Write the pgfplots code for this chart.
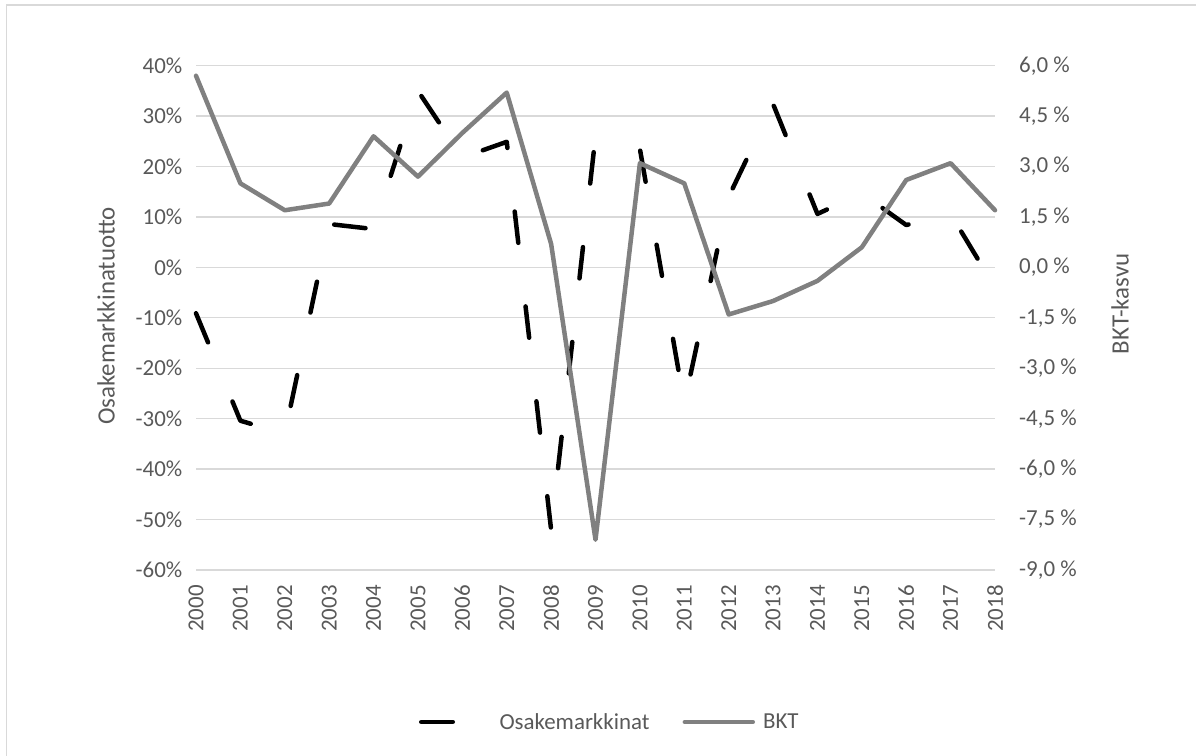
\documentclass[border=0pt]{standalone}
\usepackage{pgfplots}
\pgfplotsset{compat=1.18}
\usepackage{fontspec}
\setmainfont{Carlito}
\definecolor{txt}{HTML}{595959}
\definecolor{gridc}{HTML}{D9D9D9}
\definecolor{gdp}{HTML}{808080}
\newcommand{\tfont}{\fontsize{23}{27}\selectfont}
\newcommand{\ltfont}{\fontsize{25}{29}\selectfont}
\begin{document}
\begin{tikzpicture}[x=1bp,y=1bp]
\path[use as bounding box] (0,0) rectangle (1196,756);
\draw[gridc, line width=1.5bp] (6.7,0) -- (6.7,751) -- (1196,751);
\begin{axis}[
  at={(196bp,186bp)}, anchor=south west,
  scale only axis, width=799bp, height=504.3bp,
  xmin=2000, xmax=2018, ymin=-60, ymax=40,
  xtick={2000,2001,...,2018},
  ytick={-60,-50,...,40},
  axis line style={draw=none}, tick style={draw=none},
  ymajorgrids, grid style={gridc, line width=1.3bp},
  /pgf/number format/assume math mode=true,
  /pgf/number format/1000 sep={},
  tick label style={font=\tfont, text=txt},
  xticklabel style={rotate=90, anchor=east, inner sep=0pt},
  xticklabel shift=15bp,
  yticklabel style={inner sep=0pt, anchor=east},
  yticklabel shift=13.5bp,
  yticklabel={\pgfmathprintnumber{\tick}\%},
  clip=false,
]
\addplot[black, line width=4.5bp, line cap=round, line join=round, dash pattern=on 31.5bp off 64bp] coordinates {
(2000,-9.1) (2001,-30.4) (2002,-33) (2003,8.6) (2004,7.6) (2005,35.0) (2006,21.8) (2007,24.9) (2008,-52) (2009,26) (2010,23.5) (2011,-27) (2012,14) (2013,32.4) (2014,10.6) (2015,14.7) (2016,8.4) (2017,10.6) (2018,-4)
};
\end{axis}
\begin{axis}[
  at={(196bp,186bp)}, anchor=south west,
  scale only axis, width=799bp, height=504.3bp,
  xmin=2000, xmax=2018, ymin=-9, ymax=6,
  xtick=\empty,
  ytick={-9,-7.5,-6,-4.5,-3,-1.5,0,1.5,3,4.5,6},
  axis x line=none, axis y line*=right,
  axis line style={draw=none}, tick style={draw=none},
  /pgf/number format/assume math mode=true,
  /pgf/number format/.cd, fixed, fixed zerofill, precision=1, use comma, /pgfplots/.cd,
  tick label style={font=\tfont, text=txt},
  yticklabel style={inner sep=0pt, anchor=west},
  yticklabel shift=24bp,
  yticklabel={\pgfmathprintnumber{\tick}~\%},
  clip=false,
  legend columns=2,
  legend style={at={(axis description cs:0.2791,-0.3014)}, anchor=west, draw=none, fill=none,
    inner sep=0pt, outer sep=0pt,
    nodes={inner sep=0pt, anchor=west, text=txt, font=\tfont},
    /tikz/every odd column/.append style={column sep=8bp},
    /tikz/every even column/.append style={column sep=33bp}},
  legend image code/.code={\draw[#1] (0bp,0bp) -- (68bp,0bp);},
]
\addlegendimage{black, line width=4.5bp, line cap=round, dash pattern=on 31.5bp off 64bp}
\addlegendentry{Osakemarkkinat}
\addplot[gdp, line width=4.5bp, line cap=round, line join=round] coordinates {
(2000,5.7) (2001,2.5) (2002,1.7) (2003,1.9) (2004,3.9) (2005,2.7) (2006,4.0) (2007,5.2) (2008,0.7) (2009,-8.1) (2010,3.1) (2011,2.5) (2012,-1.4) (2013,-1.0) (2014,-0.4) (2015,0.6) (2016,2.6) (2017,3.1) (2018,1.7)
};
\addlegendentry{BKT}
\end{axis}
\node[rotate=90, text=txt, font=\ltfont] at (106bp,440bp) {Osakemarkkinatuotto};
\node[rotate=90, text=txt, font=\ltfont] at (1120bp,452bp) {BKT-kasvu};
\end{tikzpicture}
\end{document}
